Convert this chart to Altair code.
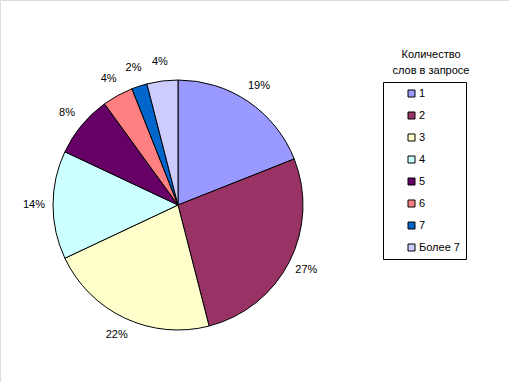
import altair as alt
import pandas as pd

categories = ["1", "2", "3", "4", "5", "6", "7", "Более 7"]
values = [19, 27, 22, 14, 8, 4, 2, 4]
labels = ["19%", "27%", "22%", "14%", "8%", "4%", "2%", "4%"]
colors = ["#9999FF", "#993366", "#FFFFCC", "#CCFFFF", "#660066", "#FF8080", "#0066CC", "#CCCCFF"]
legend_title = "Количество\nслов в запросе"

df = pd.DataFrame({
    "cat": categories,
    "value": values,
    "label": labels,
    "idx": list(range(len(categories))),
})

FONT = "Liberation Sans"
CX, CY = 178, 205

base = alt.Chart(df).encode(
    theta=alt.Theta("value:Q", stack=True),
    order=alt.Order("idx:Q"),
)

pie = base.mark_arc(outerRadius=125, stroke="black", strokeWidth=1).encode(
    x=alt.value(CX),
    y=alt.value(CY),
    color=alt.Color(
        "cat:N",
        scale=alt.Scale(domain=categories, range=colors),
        sort=categories,
        legend=alt.Legend(
            title=None,
            orient="none",
            legendX=383,
            legendY=82,
            symbolType="square",
            symbolSize=49,
            symbolStrokeColor="black",
            symbolStrokeWidth=1,
            symbolOffset=17,
            labelOffset=2,
            labelExpr="datum.label + '     '",
            labelFont=FONT,
            labelFontSize=11,
            labelColor="black",
            rowPadding=10,
            padding=6,
            strokeColor="black",
            fillColor="white",
        ),
    ),
)

text = base.mark_text(radius=144, font=FONT, fontSize=11, color="black").encode(
    x=alt.value(CX),
    y=alt.value(CY),
    text="label:N",
)

title = alt.Chart(pd.DataFrame({"t": [legend_title]})).mark_text(
    font=FONT, fontSize=11, color="black", lineBreak="\n", lineHeight=16,
    baseline="top", align="center",
).encode(
    x=alt.value(431),
    y=alt.value(49),
    text="t:N",
)

chart = alt.layer(pie, text, title).properties(
    width=509, height=382,
    autosize=alt.AutoSizeParams(type="none"),
    padding=0,
).configure_view(stroke=None).configure(background="white")

chart.save("out.html", embed_options={"renderer": "svg", "actions": False})
